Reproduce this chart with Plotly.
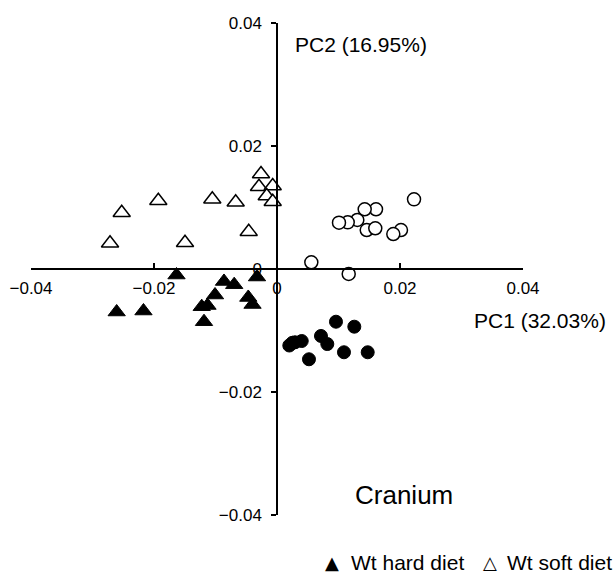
import plotly.graph_objects as go

# Data (PC1, PC2)
wt_hard_x = [-0.02607, -0.02171, -0.01634, -0.00862, -0.00696, -0.00325, -0.01008, -0.01224, -0.01130, -0.01187, -0.00467, -0.00398]
wt_hard_y = [-0.00699, -0.00683, -0.00098, -0.00203, -0.00255, -0.00130, -0.00423, -0.00613, -0.00593, -0.00857, -0.00463, -0.00577]

wt_soft_x = [-0.02715, -0.02525, -0.01930, -0.01496, -0.01052, -0.00672, -0.00460, -0.00260, -0.00293, -0.00070, -0.00167, -0.00070]
wt_soft_y = [0.00418, 0.00915, 0.01111, 0.00428, 0.01133, 0.01085, 0.00607, 0.01545, 0.01338, 0.01350, 0.01187, 0.01094]

open_circ_x = [0.02228, 0.01610, 0.01426, 0.01306, 0.01150, 0.01008, 0.01459, 0.01598, 0.02016, 0.01891, 0.00558, 0.01166]
open_circ_y = [0.01133, 0.00971, 0.00971, 0.00797, 0.00759, 0.00753, 0.00634, 0.00662, 0.00634, 0.00569, 0.00109, -0.00081]

filled_circ_x = [0.00959, 0.01257, 0.00715, 0.00818, 0.01089, 0.01475, 0.00520, 0.00402, 0.00293, 0.00200, 0.00250]
filled_circ_y = [-0.00857, -0.00938, -0.01089, -0.01220, -0.01354, -0.01354, -0.01468, -0.01171, -0.01192, -0.01244, -0.01200]

tick_vals = [-0.04, -0.02, 0, 0.02, 0.04]
tick_text = ["\u22120.04", "\u22120.02", "0", "0.02", "0.04"]

legend_labels = ["Wt hard diet", "Wt soft diet"]
legend_symbols = ["\u25b2", "\u25b3"]

FONT = "Liberation Sans, Arial, sans-serif"
SYMFONT = "DejaVu Sans, sans-serif"

fig = go.Figure()
fig.add_trace(go.Scatter(x=wt_hard_x, y=wt_hard_y, mode="markers", name=legend_labels[0],
                         marker=dict(symbol="triangle-up", size=15, color="black",
                                     line=dict(color="black", width=1))))
fig.add_trace(go.Scatter(x=wt_soft_x, y=wt_soft_y, mode="markers", name=legend_labels[1],
                         marker=dict(symbol="triangle-up", size=15, color="white",
                                     line=dict(color="black", width=1.5))))
fig.add_trace(go.Scatter(x=open_circ_x, y=open_circ_y, mode="markers", name="soft (circle)",
                         marker=dict(symbol="circle", size=13, color="white",
                                     line=dict(color="black", width=1.5))))
fig.add_trace(go.Scatter(x=filled_circ_x, y=filled_circ_y, mode="markers", name="hard (circle)",
                         marker=dict(symbol="circle", size=13, color="black",
                                     line=dict(color="black", width=1))))

L, R, T, B = 31, 90, 23, 60
W, H = 613, 575
pw, ph = W - L - R, H - T - B

def px(xp):
    return (xp - L) / pw

def py(yp):
    return (H - B - yp) / ph

fig.update_layout(
    width=W, height=H,
    margin=dict(l=L, r=R, t=T, b=B, pad=0, autoexpand=False),
    paper_bgcolor="white", plot_bgcolor="white",
    showlegend=False,
    font=dict(family=FONT, size=17, color="black"),
    xaxis=dict(range=[-0.04, 0.04], anchor="free", position=0.5,
               automargin=False,
               showline=True, linecolor="black", linewidth=1.5,
               showgrid=False, zeroline=False,
               ticks="inside", ticklen=5, tickwidth=1.5, tickcolor="black",
               tickvals=tick_vals, ticktext=tick_text,
               tickfont=dict(family=FONT, size=17, color="black"),
               ticklabelstandoff=4),
    yaxis=dict(range=[-0.04, 0.04], anchor="free", position=0.5,
               automargin=False,
               showline=True, linecolor="black", linewidth=1.5,
               showgrid=False, zeroline=False,
               ticks="outside", ticklen=5, tickwidth=1.5, tickcolor="black",
               tickvals=tick_vals, ticktext=tick_text,
               tickfont=dict(family=FONT, size=17, color="black"),
               ticklabelstandoff=6),
)

fig.add_annotation(text="PC2 (16.95%)", x=px(360.5), y=py(45), xref="paper", yref="paper",
                   showarrow=False, xanchor="center", yanchor="middle",
                   font=dict(family=FONT, size=21, color="black"))
fig.add_annotation(text="PC1 (32.03%)", x=px(540), y=py(320), xref="paper", yref="paper",
                   showarrow=False, xanchor="center", yanchor="middle",
                   font=dict(family=FONT, size=21, color="black"))
fig.add_annotation(text="Cranium", x=px(404), y=py(495), xref="paper", yref="paper",
                   showarrow=False, xanchor="center", yanchor="middle",
                   font=dict(family=FONT, size=26, color="black"))

# Legend drawn as text (symbols + labels)
sym_x = [332, 490]
lab_x = [349, 505]
for s, sx in zip(legend_symbols, sym_x):
    fig.add_annotation(text=s, x=px(sx), y=py(562), xref="paper", yref="paper",
                       showarrow=False, xanchor="center", yanchor="middle",
                       font=dict(family=SYMFONT, size=18, color="black"))
for t, lx in zip(legend_labels, lab_x):
    fig.add_annotation(text=t, x=px(lx), y=py(562), xref="paper", yref="paper",
                       showarrow=False, xanchor="left", yanchor="middle",
                       font=dict(family=FONT, size=21, color="black"))

fig.write_html("out.html", config={"displayModeBar": False},
               post_script="document.body.style.margin='0';document.body.style.overflow='hidden';")
